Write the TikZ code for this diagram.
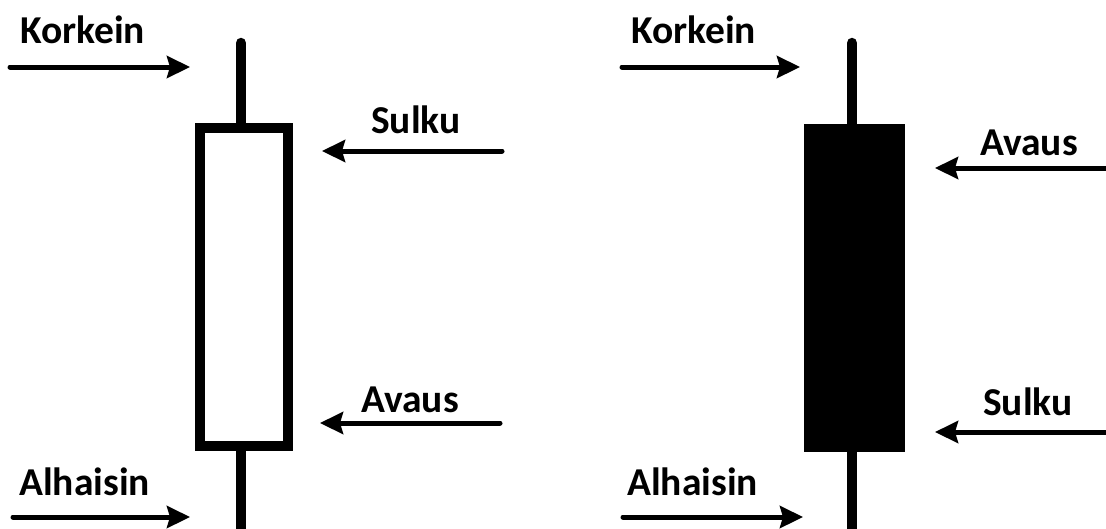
\documentclass[tikz,border=0pt]{standalone}
\usepackage{fontspec}
\setmainfont{Carlito}
\usetikzlibrary{arrows.meta}
\tikzset{
  lbl/.style={anchor=base west, inner sep=0pt, font=\bfseries\fontsize{39.5}{41}\selectfont},
  pointer/.style={line width=5pt, line cap=round, -{Stealth[length=23pt,width=22pt,inset=3pt]}},
  wick/.style={line width=10.5pt},
  hollowbody/.style={draw, line width=10pt, fill=white},
  solidbody/.style={fill=black},
}
\begin{document}
\begin{tikzpicture}[x=1pt,y=-1pt]
  \useasboundingbox (0,0) rectangle (1106,528);
  \clip (0,0) rectangle (1106,528);

  % ---- rising candle (hollow body) ----
  \draw[wick, line cap=round] (241,43) -- (241,128);
  \draw[wick] (241,446) -- (241,540);
  \path[hollowbody] (200,128) rectangle (288,446);

  \node[lbl] (hiL)  at (20,43)   {Korkein};
  \node[lbl] (clL)  at (371,133) {Sulku};
  \node[lbl] (opL)  at (361,412) {Avaus};
  \node[lbl] (loL)  at (19,495)  {Alhaisin};

  \coordinate (hiLa) at (10,67);   \coordinate (hiLb) at (190,67);
  \coordinate (clLa) at (502,151); \coordinate (clLb) at (322,151);
  \coordinate (opLa) at (500,423); \coordinate (opLb) at (320,423);
  \coordinate (loLa) at (13,517);  \coordinate (loLb) at (190,517);
  \draw[pointer] (hiLa) -- (hiLb);
  \draw[pointer] (clLa) -- (clLb);
  \draw[pointer] (opLa) -- (opLb);
  \draw[pointer] (loLa) -- (loLb);

  % ---- falling candle (solid body) ----
  \draw[wick, line cap=round] (852,43) -- (852,130);
  \draw[wick] (852,445) -- (852,540);
  \path[solidbody] (804,124) rectangle (905,452);

  \node[lbl] (hiR)  at (631,43)  {Korkein};
  \node[lbl] (opR)  at (980,155) {Avaus};
  \node[lbl] (clR)  at (983,415) {Sulku};
  \node[lbl] (loR)  at (627,495) {Alhaisin};

  \coordinate (hiRa) at (622,67);   \coordinate (hiRb) at (800,67);
  \coordinate (opRa) at (1115,168); \coordinate (opRb) at (935,168);
  \coordinate (clRa) at (1115,432); \coordinate (clRb) at (935,432);
  \coordinate (loRa) at (623,517);  \coordinate (loRb) at (803,517);
  \draw[pointer] (hiRa) -- (hiRb);
  \draw[pointer] (opRa) -- (opRb);
  \draw[pointer] (clRa) -- (clRb);
  \draw[pointer] (loRa) -- (loRb);
\end{tikzpicture}
\end{document}
